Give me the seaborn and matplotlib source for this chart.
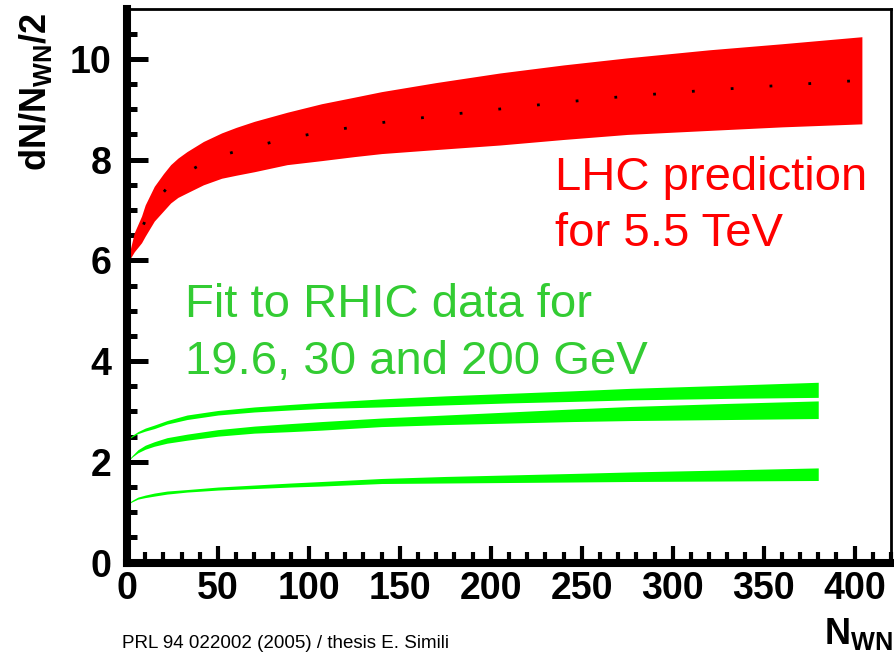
import numpy as np
import pandas as pd
import matplotlib
matplotlib.use("Agg")
import matplotlib.pyplot as plt
import seaborn as sns
from matplotlib import font_manager

# ---- data -------------------------------------------------------------
# LHC (5.5 TeV) extrapolation band: dN/N_WN/2 versus N_WN
lhc_nwn = [1, 2, 4, 8, 10, 15, 20, 24, 28, 33, 42, 52, 60, 70, 88, 107,
           125, 140, 170, 205, 240, 275, 320, 360, 404]
lhc_upper = [6.0, 6.25, 6.55, 6.88, 7.10, 7.47, 7.72, 7.90, 8.03, 8.16,
             8.36, 8.53, 8.64, 8.76, 8.94, 9.11, 9.24, 9.35, 9.53, 9.72,
             9.88, 10.02, 10.18, 10.30, 10.44]
lhc_lower = [6.0, 6.05, 6.17, 6.35, 6.48, 6.78, 6.98, 7.14, 7.25, 7.34,
             7.50, 7.63, 7.69, 7.76, 7.90, 7.98, 8.06, 8.12, 8.20, 8.29,
             8.40, 8.50, 8.58, 8.65, 8.71]

# RHIC fits (200, 30 and 19.6 GeV)
rhic_nwn = [1, 3, 6, 10, 15, 22, 33, 50, 70, 90, 107, 140, 175, 210, 245,
            277, 330, 380]
rhic200_upper = [2.47, 2.53, 2.60, 2.67, 2.73, 2.82, 2.93, 3.02, 3.09, 3.14,
                 3.18, 3.25, 3.31, 3.36, 3.41, 3.46, 3.52, 3.58]
rhic200_lower = [2.45, 2.50, 2.56, 2.61, 2.66, 2.75, 2.84, 2.93, 2.99, 3.03,
                 3.06, 3.09, 3.13, 3.17, 3.20, 3.23, 3.26, 3.28]
rhic30_upper = [2.05, 2.13, 2.24, 2.33, 2.40, 2.48, 2.55, 2.64, 2.71, 2.76,
                2.80, 2.87, 2.93, 2.99, 3.05, 3.10, 3.16, 3.21]
rhic30_lower = [2.03, 2.10, 2.18, 2.25, 2.31, 2.37, 2.43, 2.51, 2.57, 2.60,
                2.63, 2.70, 2.74, 2.77, 2.80, 2.82, 2.84, 2.86]
rhic19_upper = [1.19, 1.24, 1.30, 1.34, 1.38, 1.42, 1.45, 1.50, 1.54, 1.58,
                1.61, 1.67, 1.71, 1.74, 1.77, 1.80, 1.84, 1.88]
rhic19_lower = [1.17, 1.21, 1.26, 1.29, 1.32, 1.36, 1.40, 1.44, 1.47, 1.50,
                1.52, 1.57, 1.58, 1.59, 1.60, 1.61, 1.62, 1.63]

x_ticks = [0, 50, 100, 150, 200, 250, 300, 350, 400]
y_ticks = [0, 2, 4, 6, 8, 10]
x_minor = list(range(0, 421, 10))
y_minor = [v / 2 for v in range(0, 22)]

# ---- style ------------------------------------------------------------
sns.set_theme(style="white")
plt.rcParams["font.family"] = ["Liberation Sans", "DejaVu Sans"]
plt.rcParams["mathtext.fontset"] = "custom"
plt.rcParams["mathtext.rm"] = "Liberation Sans:bold"
plt.rcParams["mathtext.bf"] = "Liberation Sans:bold"
plt.rcParams["mathtext.it"] = "Liberation Sans:bold"
for key in ["text.color", "axes.labelcolor", "xtick.color", "ytick.color"]:
    plt.rcParams[key] = "black"

RED = "#ff0000"
GREEN = "#00ff00"
GREEN_TEXT = "#33cc33"

W, H = 895, 654
fig = plt.figure(figsize=(W / 100, H / 100), dpi=100)
ax = fig.add_axes([127 / W, 1 - 562.6 / H, (891 - 127) / W, (562.6 - 8.5) / H])

# bands
ax.fill_between(lhc_nwn, lhc_lower, lhc_upper, color=RED, linewidth=0)
for lo, hi in [(rhic200_lower, rhic200_upper),
               (rhic30_lower, rhic30_upper),
               (rhic19_lower, rhic19_upper)]:
    ax.fill_between(rhic_nwn, lo, hi, color=GREEN, linewidth=0)

# central LHC curve (dotted)
center = pd.DataFrame({
    "nwn": lhc_nwn,
    "val": (np.array(lhc_upper) + np.array(lhc_lower)) / 2,
})
sns.lineplot(data=center, x="nwn", y="val", ax=ax, color="black",
             linewidth=2.0, linestyle=(0, (1, 13)), dash_capstyle="butt")

# axes
ax.set_xlim(0, 420)
ax.set_ylim(0, 11)
ax.set_xlabel("")
ax.set_ylabel("")
ax.set_xticks(x_ticks)
ax.set_xticklabels([str(t) for t in x_ticks], fontweight="bold")
ax.set_yticks(y_ticks)
ax.set_yticklabels([str(t) for t in y_ticks], fontweight="bold")
ax.set_xticks(x_minor, minor=True)
ax.set_yticks(y_minor, minor=True)

ax.tick_params(axis="both", which="both", direction="in", color="black",
               bottom=True, left=True, top=False, right=False)
ax.tick_params(axis="y", which="major", length=15, width=3.6, labelsize=27, pad=11)
ax.tick_params(axis="y", which="minor", length=7, width=3.6)
ax.tick_params(axis="x", which="major", length=12, width=3.0, labelsize=27, pad=6)
ax.tick_params(axis="x", which="minor", length=8, width=3.0)

for side in ["left", "bottom"]:
    ax.spines[side].set_linewidth(5.8)
    ax.spines[side].set_color("black")
for side in ["top", "right"]:
    ax.spines[side].set_linewidth(2.0)
    ax.spines[side].set_color("black")

# axis titles
fig.text(36 / W, 1 - 13 / H, "dN/N$_{\\mathbf{WN}}$/2", rotation=90,
         ha="center", va="top", fontsize=26, fontweight="bold")
fig.text(893 / W, 1.5 / H, "N$_{\\mathbf{WN}}$", ha="right", va="bottom",
         fontsize=26, fontweight="bold")

# annotations
fig.text(555 / W, 1 - 156 / H, "LHC prediction\nfor 5.5 TeV", color=RED,
         fontsize=34, ha="left", va="top", linespacing=1.35)
fig.text(185 / W, 1 - 283 / H, "Fit to RHIC data for\n19.6, 30 and 200 GeV",
         color=GREEN_TEXT, fontsize=34, ha="left", va="top", linespacing=1.37)

names = {f.name for f in font_manager.fontManager.ttflist}
if "Liberation Sans Narrow" in names:
    foot_family, foot_size = "Liberation Sans Narrow", 17
else:
    foot_family, foot_size = "Liberation Sans", 13.5
fig.text(122 / W, 1 - 648 / H, "PRL 94 022002 (2005) / thesis E. Simili",
         ha="left", va="baseline", fontsize=foot_size, family=foot_family)

fig.savefig("out.png", dpi=100)
